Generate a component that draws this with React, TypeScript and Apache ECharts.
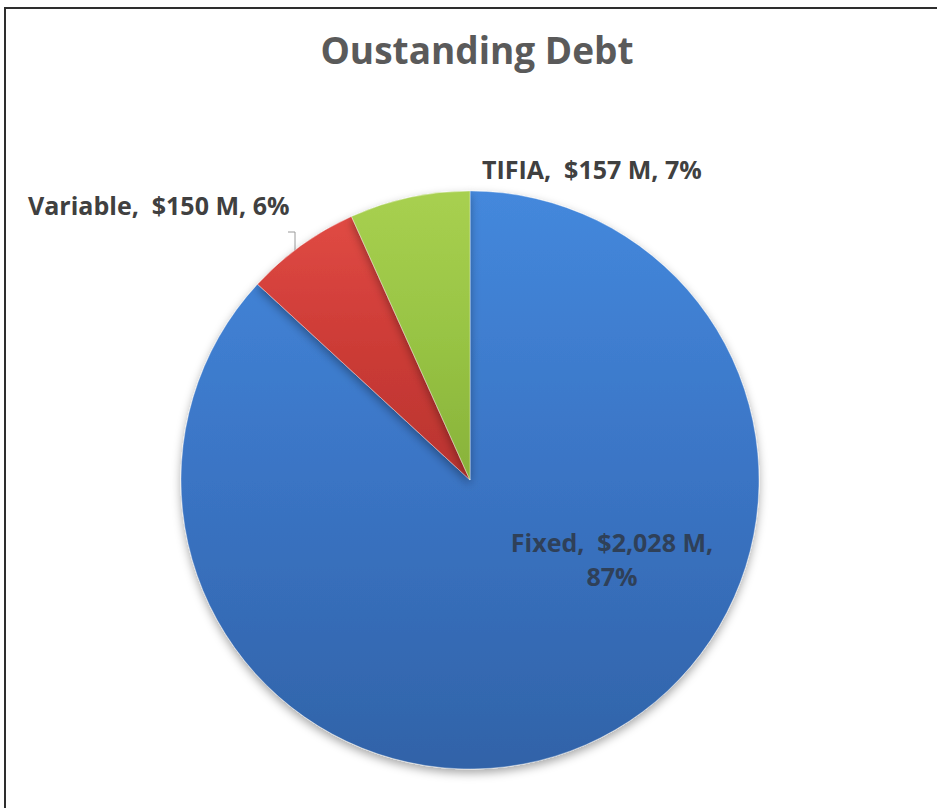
import React, { useEffect, useRef } from "react";
import * as echarts from "echarts";

const titleText = "Oustanding Debt";
const categories = ["Fixed", "Variable", "TIFIA"];
const values = [2028, 150, 157];
const valueLabels = ["$2,028 M", "$150 M", "$157 M"];

const sliceColors = [
  ["#4488dc", "#3a74c4", "#3163a8"],
  ["#e04a44", "#cc3b36", "#b83430"],
  ["#a8d050", "#98c444", "#88b23a"],
];

export default function App() {
  const ref = useRef<HTMLDivElement>(null);

  useEffect(() => {
    if (!ref.current) return;
    const chart = echarts.init(ref.current, undefined, { renderer: "svg" });

    const labelPos = [
      { x: 612, y: 559, align: "center", verticalAlign: "middle" },
      { x: 28, y: 205, align: "left", verticalAlign: "middle" },
      { x: 482, y: 169, align: "left", verticalAlign: "middle" },
    ];

    const data = categories.map((name, i) => ({
      name,
      value: values[i],
      itemStyle: {
        color: {
          type: "linear",
          x: 0,
          y: 0,
          x2: 0,
          y2: 1,
          colorStops: [
            { offset: 0, color: sliceColors[i][0] },
            { offset: 0.5, color: sliceColors[i][1] },
            { offset: 1, color: sliceColors[i][2] },
          ],
        },
      },
      label: {
        color: i === 0 ? "#2f4058" : "#404040",
        lineHeight: 34,
      },
    }));

    chart.setOption({
      animation: false,
      backgroundColor: "#ffffff",
      title: {
        text: titleText,
        left: 472,
        top: 26,
        textAlign: "center",
        textStyle: {
          fontFamily: "Open Sans",
          fontWeight: "bold",
          fontSize: 37,
          color: "#5a5a5a",
        },
      },
      graphic: [
        {
          type: "polyline",
          silent: true,
          shape: { points: [[5, 960], [5, 8], [1000, 8]] },
          style: { stroke: "#2e2e2e", lineWidth: 2, fill: "none" },
        },
        {
          type: "polyline",
          silent: true,
          shape: { points: [[288, 232], [295, 232], [295, 257]] },
          style: { stroke: "#9a9a9a", lineWidth: 1, fill: "none" },
        },
      ],
      series: [
        {
          type: "pie",
          center: [470, 480],
          radius: 289,
          startAngle: 90,
          clockwise: true,
          percentPrecision: 0,
          data,
          itemStyle: {
            borderColor: "rgba(255,255,255,0.35)",
            borderWidth: 1,
            shadowBlur: 10,
            shadowOffsetY: 4,
            shadowColor: "rgba(0,0,0,0.35)",
          },
          label: {
            show: true,
            position: "inside",
            overflow: "none",
            fontFamily: "Open Sans",
            fontWeight: "bold",
            fontSize: 25,
            formatter: (p: any) => {
              const i = p.dataIndex;
              const sep = i === 0 ? "\n" : " ";
              return `${categories[i]},  ${valueLabels[i]},${sep}${p.percent}%`;
            },
          },
          labelLine: { show: false },
          labelLayout: (p: any) => labelPos[p.dataIndex],
          emphasis: { disabled: true },
        },
      ],
    });

    return () => chart.dispose();
  }, []);

  return (
    <div
      ref={ref}
      style={{ position: "fixed", left: 0, top: 0, width: 937, height: 808 }}
    />
  );
}
